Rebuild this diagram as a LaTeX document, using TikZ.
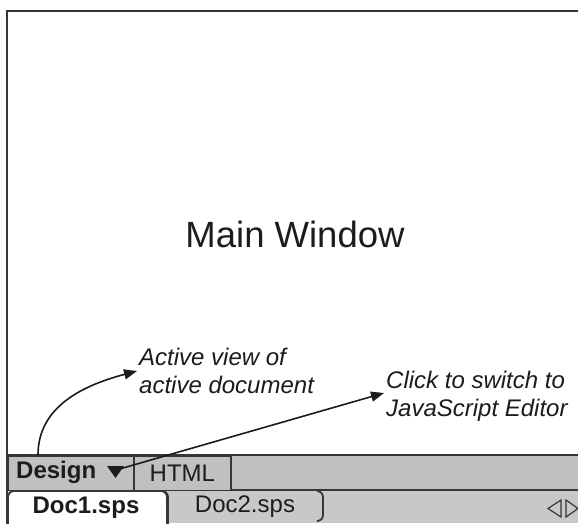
\documentclass[tikz,border=0pt]{standalone}
\usepackage{fontspec}
\setmainfont{Liberation Sans}
\usetikzlibrary{arrows.meta, calc}
\definecolor{framegray}{RGB}{55,55,55}
\definecolor{bargray}{RGB}{192,192,192}
\definecolor{rowgray}{RGB}{200,200,200}
\definecolor{inkgray}{RGB}{28,28,28}
\tikzset{
  tabbox/.style={rectangle, draw=framegray, fill=bargray, line width=1.8pt, minimum height=35pt, inner sep=0pt},
  tablabel/.style={font=\fontsize{24}{28}\selectfont, text=inkgray, inner sep=0pt},
  note/.style={font=\fontsize{24}{28}\selectfont\itshape, text=inkgray, align=left, inner sep=2pt},
  pointer/.style={-{Triangle[length=13pt,width=10pt]}, line width=1.6pt, draw=inkgray},
  edgeline/.style={draw=framegray, line width=1.8pt}
}

\begin{document}
\begin{tikzpicture}[x=1pt, y=-1pt]
  \useasboundingbox (0,0) rectangle (578,523);
  \clip (0,0) rectangle (578,523);

  % Window frame
  \fill[white] (0,0) rectangle (578,523);
  \draw[framegray, line width=2.2pt] (7,530) -- (7,11) -- (600,11);
  \node[font=\fontsize{36.5}{40}\selectfont, text=inkgray] (mainlbl) at (295,234) {Main Window};

  % View bar
  \fill[bargray] (7,455) rectangle (600,490);
  \draw[edgeline] (7,455) -- (600,455);
  \draw[edgeline] (7,490) -- (600,490);
  \node[tabbox, minimum width=126pt, anchor=north west] (designtab) at (7,455) {};
  \node[tabbox, minimum width=97pt, anchor=north west] (htmltab) at (133,455) {};
  \node[tablabel, font=\fontsize{24}{28}\selectfont\bfseries, anchor=west] (designlbl) at (16,472) {Design};
  \fill[inkgray] (107,466) -- (124,466) -- (115.5,478) -- cycle;
  \coordinate (dropdown) at (116,470);
  \node[tablabel] (htmllbl) at (htmltab.center) {HTML};

  % Document tabs
  \fill[rowgray] (8,491) rectangle (600,523);
  \filldraw[fill=white, edgeline] (8,530) -- (8,497) arc (180:270:6) -- (161,491) arc (270:360:6) -- (167,530);
  \node[tablabel, font=\fontsize{24}{28}\selectfont\bfseries] (doconelbl) at (86,508) {Doc1.sps};
  \draw[edgeline] (162,491) to[out=0,in=90] (168,497) -- (168,530);
  \draw[edgeline] (317,491) to[out=0,in=90] (323,497) -- (323,515) to[out=-90,in=0] (317,521);
  \node[tablabel] (doctwolbl) at (245,507) {Doc2.sps};
  \draw[framegray, line width=1.2pt] (561,500) -- (548,508.5) -- (561,517) -- cycle;
  \draw[framegray, line width=1.2pt] (566,500) -- (578,508.5) -- (566,517) -- cycle;

  % Notes
  \node[note, anchor=west] (activenote) at (137,371) {Active view of\\active document};
  \node[note, anchor=west] (clicknote) at (384,396) {Click to switch to\\JavaScript Editor};
  \draw[pointer] ($(designtab.north west)+(31,0)$) to[out=90,in=195] (activenote.west);
  \draw[pointer] (dropdown) -- ([yshift=3pt]clicknote.west);
\end{tikzpicture}
\end{document}
